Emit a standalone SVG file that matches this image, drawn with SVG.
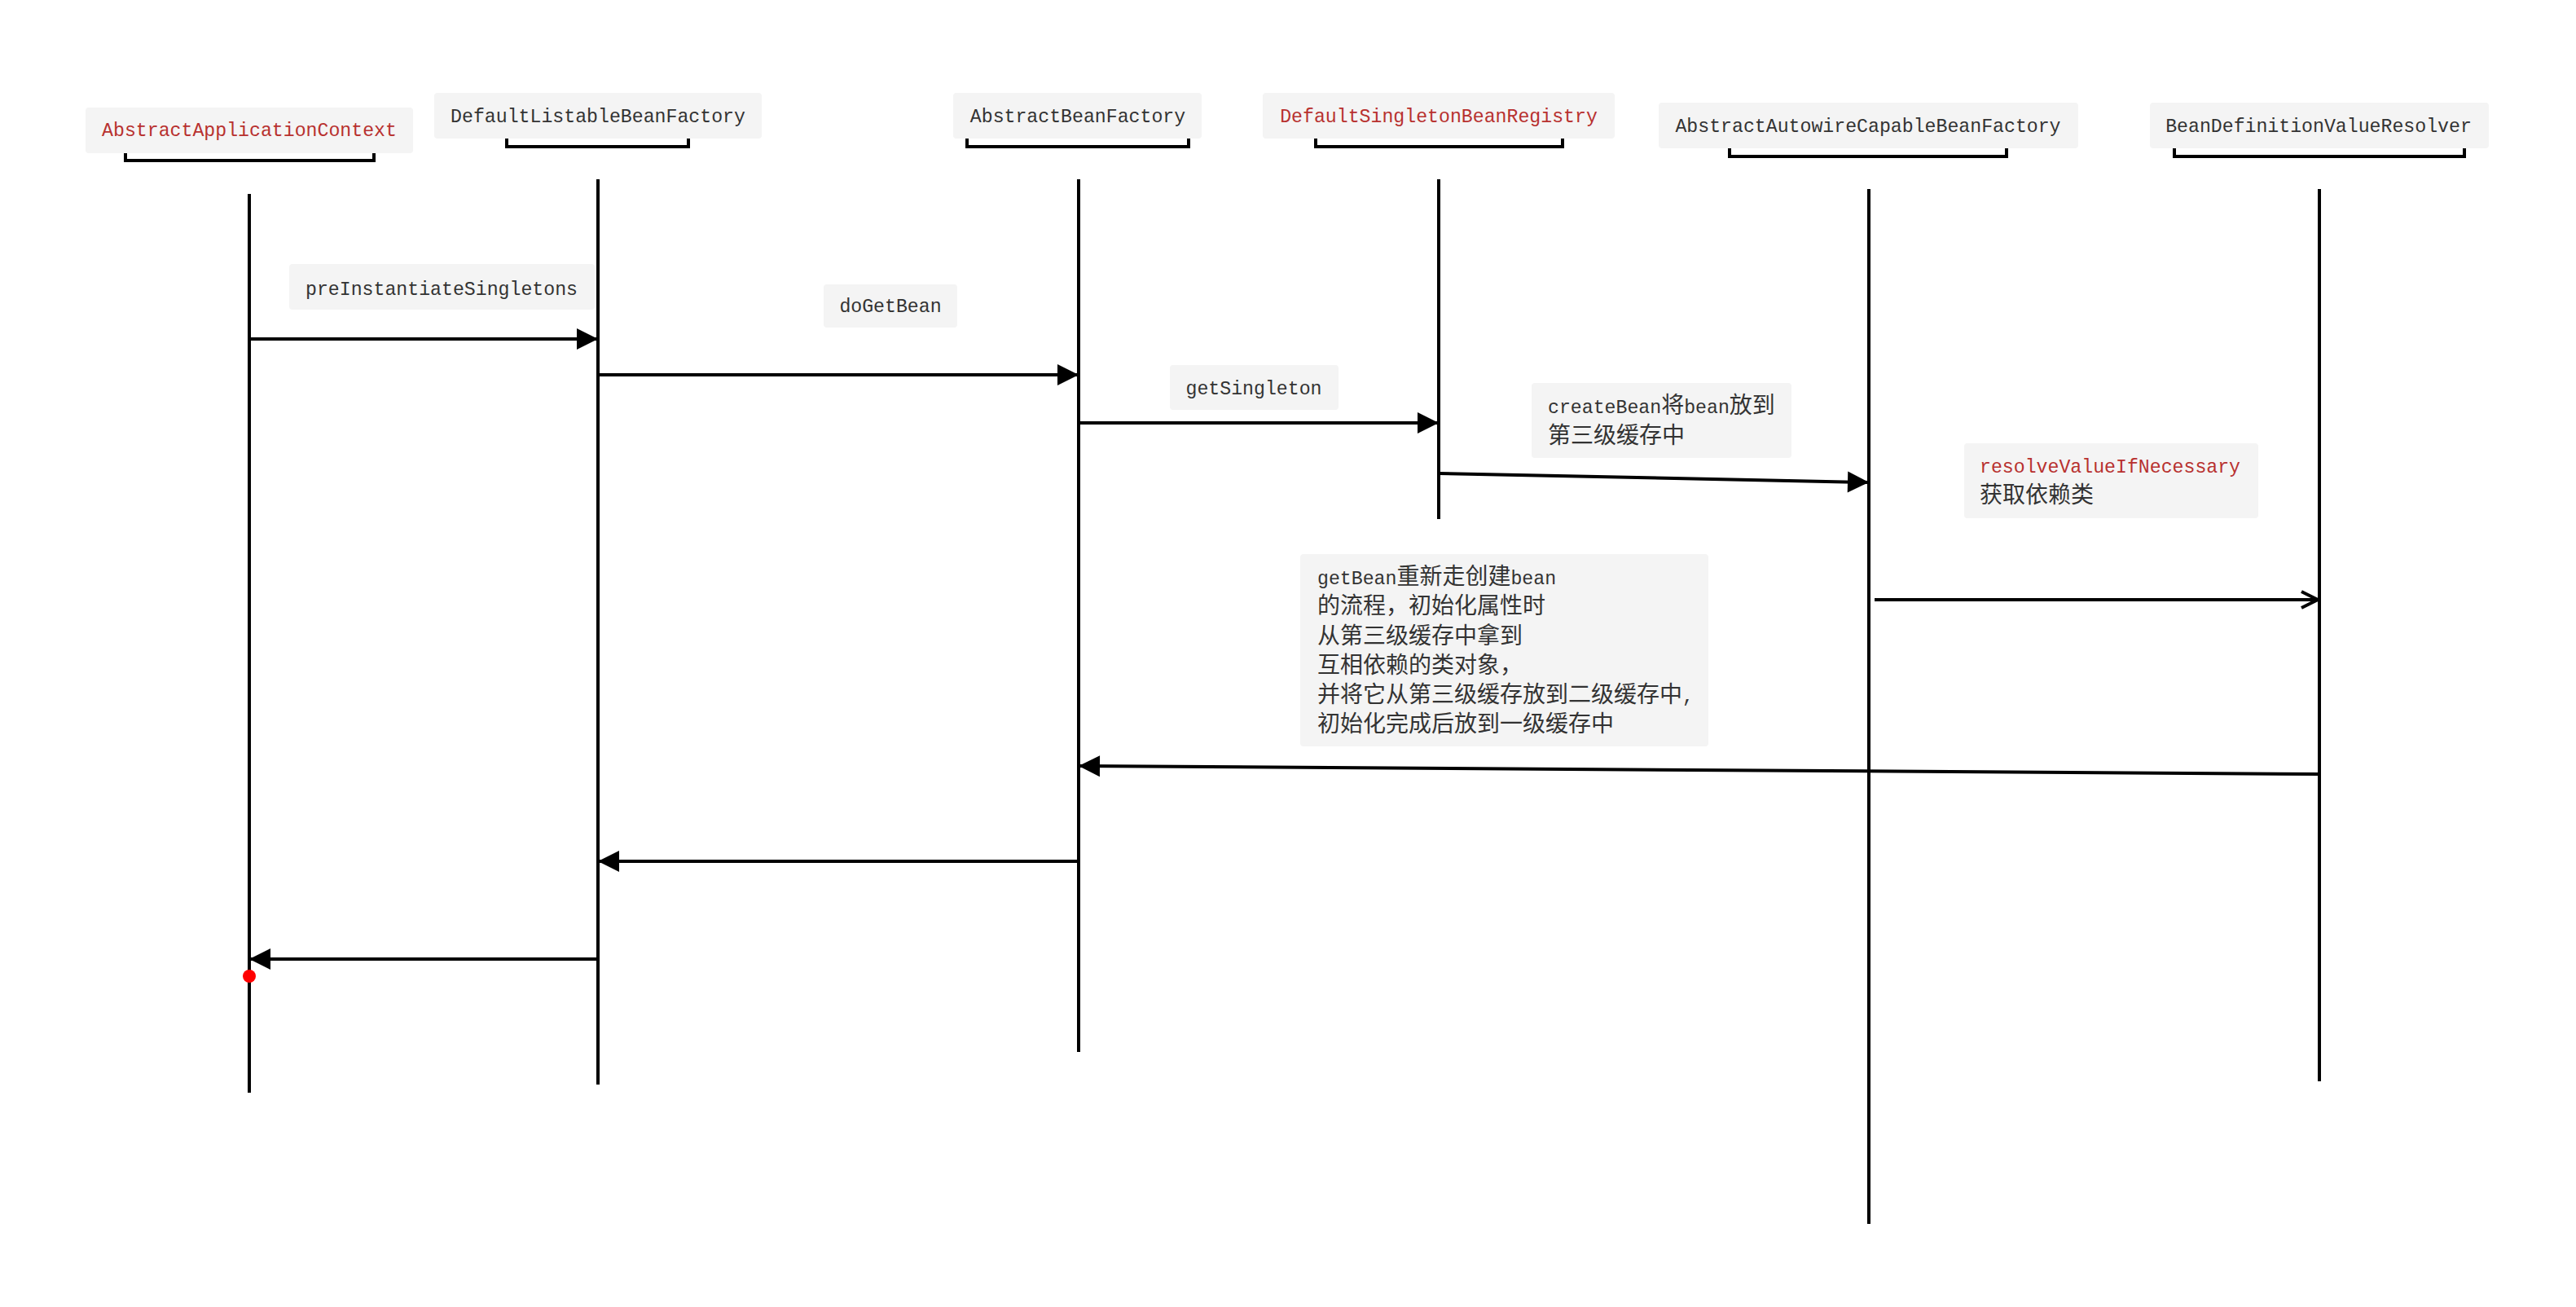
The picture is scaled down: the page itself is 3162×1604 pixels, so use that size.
<svg xmlns="http://www.w3.org/2000/svg" width="3162" height="1604" viewBox="0 0 3162 1604">
<style>
.bg{fill:#ffffff}
.box{fill:#f4f4f4;stroke:none}
.t{font-family:"Liberation Mono","Noto Sans CJK SC",monospace;font-size:23.2px;fill:#333333}
.red{fill:#b8312f}
.c{font-size:28px}
.mid{text-anchor:middle}
.life{stroke:#000;stroke-width:4;fill:none}
.br{stroke:#000;stroke-width:4;fill:none;stroke-linejoin:miter}
.msg{stroke:#000;stroke-width:4;fill:none}
</style>
<defs>
<marker id="fa" markerUnits="userSpaceOnUse" markerWidth="30" markerHeight="30" viewBox="0 0 30 30" refX="26" refY="15" orient="auto">
<path d="M1,2 L27,15 L1,28 Z" fill="#000"/>
</marker>
<marker id="oa" markerUnits="userSpaceOnUse" markerWidth="26" markerHeight="26" viewBox="0 0 26 26" refX="22" refY="13" orient="auto">
<path d="M2,3 L22,13 L2,23" fill="none" stroke="#000" stroke-width="4"/>
</marker>
</defs>
<rect class="bg" x="0" y="0" width="3162" height="1604"/>

<g id="node-AbstractApplicationContext">
<rect class="box" x="105" y="132" width="402" height="56" rx="4"/>
<text class="t red mid" x="306" y="167">AbstractApplicationContext</text>
<path class="br" d="M154,188 V197 H459 V188"/>
<line class="life" x1="306" y1="238" x2="306" y2="1341"/>
<circle cx="306" cy="1198" r="8" fill="#ff0000"/>
</g>

<g id="node-DefaultListableBeanFactory">
<rect class="box" x="533" y="114" width="402" height="56" rx="4"/>
<text class="t mid" x="734" y="150">DefaultListableBeanFactory</text>
<path class="br" d="M622,170 V180 H845 V170"/>
<line class="life" x1="734" y1="220" x2="734" y2="1331"/>
</g>

<g id="node-AbstractBeanFactory">
<rect class="box" x="1170" y="114" width="305" height="56" rx="4"/>
<text class="t mid" x="1323" y="150">AbstractBeanFactory</text>
<path class="br" d="M1187,170 V180 H1459 V170"/>
<line class="life" x1="1324" y1="220" x2="1324" y2="1291"/>
</g>

<g id="node-DefaultSingletonBeanRegistry">
<rect class="box" x="1550" y="114" width="432" height="56" rx="4"/>
<text class="t red mid" x="1766" y="150">DefaultSingletonBeanRegistry</text>
<path class="br" d="M1615,170 V180 H1918 V170"/>
<line class="life" x1="1766" y1="220" x2="1766" y2="637"/>
</g>

<g id="node-AbstractAutowireCapableBeanFactory">
<rect class="box" x="2036" y="126" width="515" height="56" rx="4"/>
<text class="t mid" x="2293" y="162">AbstractAutowireCapableBeanFactory</text>
<path class="br" d="M2123,182 V192 H2463 V182"/>
<line class="life" x1="2294" y1="232" x2="2294" y2="1502"/>
</g>

<g id="node-BeanDefinitionValueResolver">
<rect class="box" x="2639" y="126" width="416" height="56" rx="4"/>
<text class="t mid" x="2846" y="162">BeanDefinitionValueResolver</text>
<path class="br" d="M2669,182 V192 H3025 V182"/>
<line class="life" x1="2847" y1="232" x2="2847" y2="1327"/>
</g>

<g id="connectors">
<line class="msg" x1="306" y1="416" x2="733" y2="416" marker-end="url(#fa)"/>
<line class="msg" x1="734" y1="460" x2="1323" y2="460" marker-end="url(#fa)"/>
<line class="msg" x1="1324" y1="519" x2="1765" y2="519" marker-end="url(#fa)"/>
<line class="msg" x1="1766" y1="581" x2="2293" y2="592" marker-end="url(#fa)"/>
<line class="msg" x1="2301" y1="736" x2="2845" y2="736" marker-end="url(#oa)"/>
<line class="msg" x1="2847" y1="950" x2="1325" y2="940" marker-end="url(#fa)"/>
<line class="msg" x1="1324" y1="1057" x2="735" y2="1057" marker-end="url(#fa)"/>
<line class="msg" x1="734" y1="1177" x2="307" y2="1177" marker-end="url(#fa)"/>
</g>

<g id="label-preInstantiateSingletons">
<rect class="box" x="355" y="324" width="375" height="56" rx="4"/>
<text class="t mid" x="542" y="362">preInstantiateSingletons</text>
</g>
<g id="label-doGetBean">
<rect class="box" x="1011" y="349" width="164" height="53" rx="4"/>
<text class="t mid" x="1093" y="383">doGetBean</text>
</g>
<g id="label-getSingleton">
<rect class="box" x="1436" y="448" width="207" height="55" rx="4"/>
<text class="t mid" x="1539" y="484">getSingleton</text>
</g>
<g id="label-createBean">
<rect class="box" x="1880" y="470" width="319" height="92" rx="4"/>
<text class="t" x="1900" y="507">createBean<tspan class="c">将</tspan>bean<tspan class="c">放到</tspan></text>
<text class="t" x="1900" y="544"><tspan class="c">第三级缓存中</tspan></text>
</g>
<g id="label-resolveValueIfNecessary">
<rect class="box" x="2411" y="544" width="361" height="92" rx="4"/>
<text class="t red" x="2430" y="580">resolveValueIfNecessary</text>
<text class="t" x="2430" y="617"><tspan class="c">获取依赖类</tspan></text>
</g>
<g id="label-getBean">
<rect class="box" x="1596" y="680" width="501" height="236" rx="4"/>
<text class="t" x="1617" y="717">getBean<tspan class="c">重新走创建</tspan>bean</text>
<text class="t" x="1617" y="753"><tspan class="c">的流程，初始化属性时</tspan></text>
<text class="t" x="1617" y="790"><tspan class="c">从第三级缓存中拿到</tspan></text>
<text class="t" x="1617" y="826"><tspan class="c">互相依赖的类对象，</tspan></text>
<text class="t" x="1617" y="862"><tspan class="c">并将它从第三级缓存放到二级缓存中</tspan>,</text>
<text class="t" x="1617" y="898"><tspan class="c">初始化完成后放到一级缓存中</tspan></text>
</g>
</svg>
